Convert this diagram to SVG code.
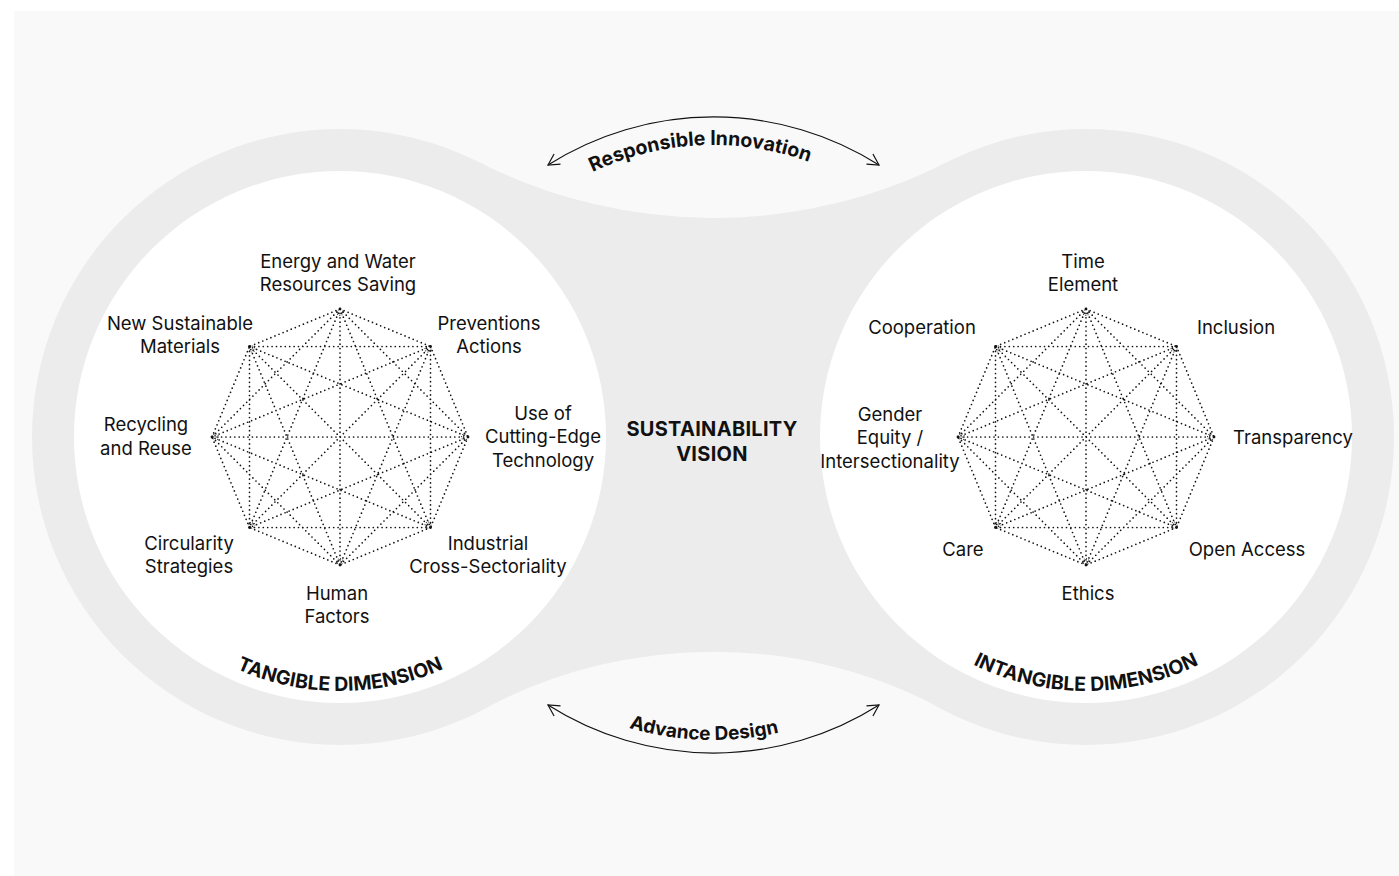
<svg xmlns="http://www.w3.org/2000/svg" xmlns:xlink="http://www.w3.org/1999/xlink" width="1399" height="876" viewBox="0 0 1399 876">
  <style>
    .panel { fill: #f9f9f9; }
    .band { fill: #ececec; }
    .disc { fill: #ffffff; }
    .lbl { font-family: Inter, "Liberation Sans", sans-serif; font-size: 18.5px; fill: #111111; text-anchor: middle; }
    .head { font-family: Inter, "Liberation Sans", sans-serif; font-size: 19.5px; font-weight: 700; fill: #111111; text-anchor: middle; }
    .big { font-size: 20px; letter-spacing: 0.3px; }
    .net { fill: none; stroke: #111111; stroke-width: 1.7; stroke-linecap: round; stroke-dasharray: 0 4.4; }
    .curl { fill: none; stroke: #111111; stroke-width: 1.1; stroke-linecap: round; stroke-dasharray: 0 2.4; }
    .vtx { fill: #111111; }
    .arc { fill: none; stroke: #111111; stroke-width: 1.2; }
  </style>
  <defs>
    <marker id="chev" viewBox="-12 -7 14 14" markerWidth="14" markerHeight="14" refX="0" refY="0" orient="auto-start-reverse" markerUnits="userSpaceOnUse">
      <path d="M-11,-6 L0,0 L-11,6" fill="none" stroke="#111111" stroke-width="1.2"/>
    </marker>
    <!-- complete graph on the eight corners of an octagon, radius 128 -->
    <g id="octanet">
      <path class="net" d="M0,-128L90.5,-90.5 M0,-128L128,0 M0,-128L90.5,90.5 M0,-128L0,128 M0,-128L-90.5,90.5 M0,-128L-128,0 M0,-128L-90.5,-90.5 M90.5,-90.5L128,0 M90.5,-90.5L90.5,90.5 M90.5,-90.5L0,128 M90.5,-90.5L-90.5,90.5 M90.5,-90.5L-128,0 M90.5,-90.5L-90.5,-90.5 M128,0L90.5,90.5 M128,0L0,128 M128,0L-90.5,90.5 M128,0L-128,0 M128,0L-90.5,-90.5 M90.5,90.5L0,128 M90.5,90.5L-90.5,90.5 M90.5,90.5L-128,0 M90.5,90.5L-90.5,-90.5 M0,128L-90.5,90.5 M0,128L-128,0 M0,128L-90.5,-90.5 M-90.5,90.5L-128,0 M-90.5,90.5L-90.5,-90.5 M-128,0L-90.5,-90.5"/>
      <g class="curl">
        <circle cx="0" cy="-124.5" r="3"/>
        <circle cx="88" cy="-88" r="3"/>
        <circle cx="124.5" cy="0" r="3"/>
        <circle cx="88" cy="88" r="3"/>
        <circle cx="0" cy="124.5" r="3"/>
        <circle cx="-88" cy="88" r="3"/>
        <circle cx="-124.5" cy="0" r="3"/>
        <circle cx="-88" cy="-88" r="3"/>
      </g>
      <g class="vtx">
        <circle cx="0" cy="-128" r="1.4"/>
        <circle cx="90.5" cy="-90.5" r="1.4"/>
        <circle cx="128" cy="0" r="1.4"/>
        <circle cx="90.5" cy="90.5" r="1.4"/>
        <circle cx="0" cy="128" r="1.4"/>
        <circle cx="-90.5" cy="90.5" r="1.4"/>
        <circle cx="-128" cy="0" r="1.4"/>
        <circle cx="-90.5" cy="-90.5" r="1.4"/>
      </g>
    </g>
    <path id="ri-path" d="M432,426 A281,281 0 0 1 994,426"/>
    <path id="ad-path" d="M417,444 A296,296 0 0 0 1009,444"/>
    <path id="td-path" d="M86,437 A254,254 0 0 0 594,437"/>
    <path id="id-path" d="M832,437 A254,254 0 0 0 1340,437"/>
  </defs>

  <!-- backdrop -->
  <rect class="panel" x="14" y="11" width="1385" height="865"/>

  <!-- peanut-shaped band: two discs joined by concave bridges -->
  <g id="band">
    <circle class="band" cx="340" cy="437" r="308"/>
    <circle class="band" cx="1086" cy="437" r="308"/>
    <path class="band" d="M479.1,162.2 A518,518 0 0 0 946.9,162.2 L941.5,708.6 A487,487 0 0 0 484.5,708.6 Z"/>
    <circle class="disc" cx="340" cy="437" r="266"/>
    <circle class="disc" cx="1086" cy="437" r="266"/>
  </g>

  <!-- connectors -->
  <g id="connectors">
    <use xlink:href="#octanet" href="#octanet" transform="translate(340,437)"/>
    <use xlink:href="#octanet" href="#octanet" transform="translate(1086,437)"/>
    <path class="arc" d="M548,165 A309,309 0 0 1 879,165" marker-start="url(#chev)" marker-end="url(#chev)"/>
    <path class="arc" d="M548,705 A309,309 0 0 0 879,705" marker-start="url(#chev)" marker-end="url(#chev)"/>
  </g>

  <g id="arc-labels">
    <text class="head"><textPath href="#ri-path" xlink:href="#ri-path" startOffset="48.5%">Responsible Innovation</textPath></text>
    <text class="head" style="font-size:19px"><textPath href="#ad-path" xlink:href="#ad-path" startOffset="49%">Advance Design</textPath></text>
  </g>

  <g id="center-vision">
    <text class="head big" x="712" y="436">SUSTAINABILITY</text>
    <text class="head big" x="712" y="461">VISION</text>
  </g>

  <g id="tangible-title">
    <text class="head"><textPath href="#td-path" xlink:href="#td-path" startOffset="50%">TANGIBLE DIMENSION</textPath></text>
  </g>
  <g id="intangible-title">
    <text class="head"><textPath href="#id-path" xlink:href="#id-path" startOffset="50%">INTANGIBLE DIMENSION</textPath></text>
  </g>

  <!-- tangible dimension nodes -->
  <g id="node-energy"><text class="lbl" x="338" y="268">Energy and Water</text><text class="lbl" x="338" y="291">Resources Saving</text></g>
  <g id="node-prevention"><text class="lbl" x="489" y="330">Preventions</text><text class="lbl" x="489" y="353">Actions</text></g>
  <g id="node-technology"><text class="lbl" x="543" y="420">Use of</text><text class="lbl" x="543" y="443">Cutting-Edge</text><text class="lbl" x="543" y="467">Technology</text></g>
  <g id="node-industrial"><text class="lbl" x="488" y="550">Industrial</text><text class="lbl" x="488" y="573">Cross-Sectoriality</text></g>
  <g id="node-human"><text class="lbl" x="337" y="600">Human</text><text class="lbl" x="337" y="623">Factors</text></g>
  <g id="node-circularity"><text class="lbl" x="189" y="550">Circularity</text><text class="lbl" x="189" y="573">Strategies</text></g>
  <g id="node-recycling"><text class="lbl" x="146" y="431">Recycling</text><text class="lbl" x="146" y="455">and Reuse</text></g>
  <g id="node-materials"><text class="lbl" x="180" y="330">New Sustainable</text><text class="lbl" x="180" y="353">Materials</text></g>

  <!-- intangible dimension nodes -->
  <g id="node-time"><text class="lbl" x="1083" y="268">Time</text><text class="lbl" x="1083" y="291">Element</text></g>
  <g id="node-inclusion"><text class="lbl" x="1236" y="334">Inclusion</text></g>
  <g id="node-transparency"><text class="lbl" x="1293" y="444">Transparency</text></g>
  <g id="node-open-access"><text class="lbl" x="1247" y="556">Open Access</text></g>
  <g id="node-ethics"><text class="lbl" x="1088" y="600">Ethics</text></g>
  <g id="node-care"><text class="lbl" x="963" y="556">Care</text></g>
  <g id="node-gender"><text class="lbl" x="890" y="421">Gender</text><text class="lbl" x="890" y="444">Equity /</text><text class="lbl" x="890" y="468">Intersectionality</text></g>
  <g id="node-cooperation"><text class="lbl" x="922" y="334">Cooperation</text></g>
</svg>
